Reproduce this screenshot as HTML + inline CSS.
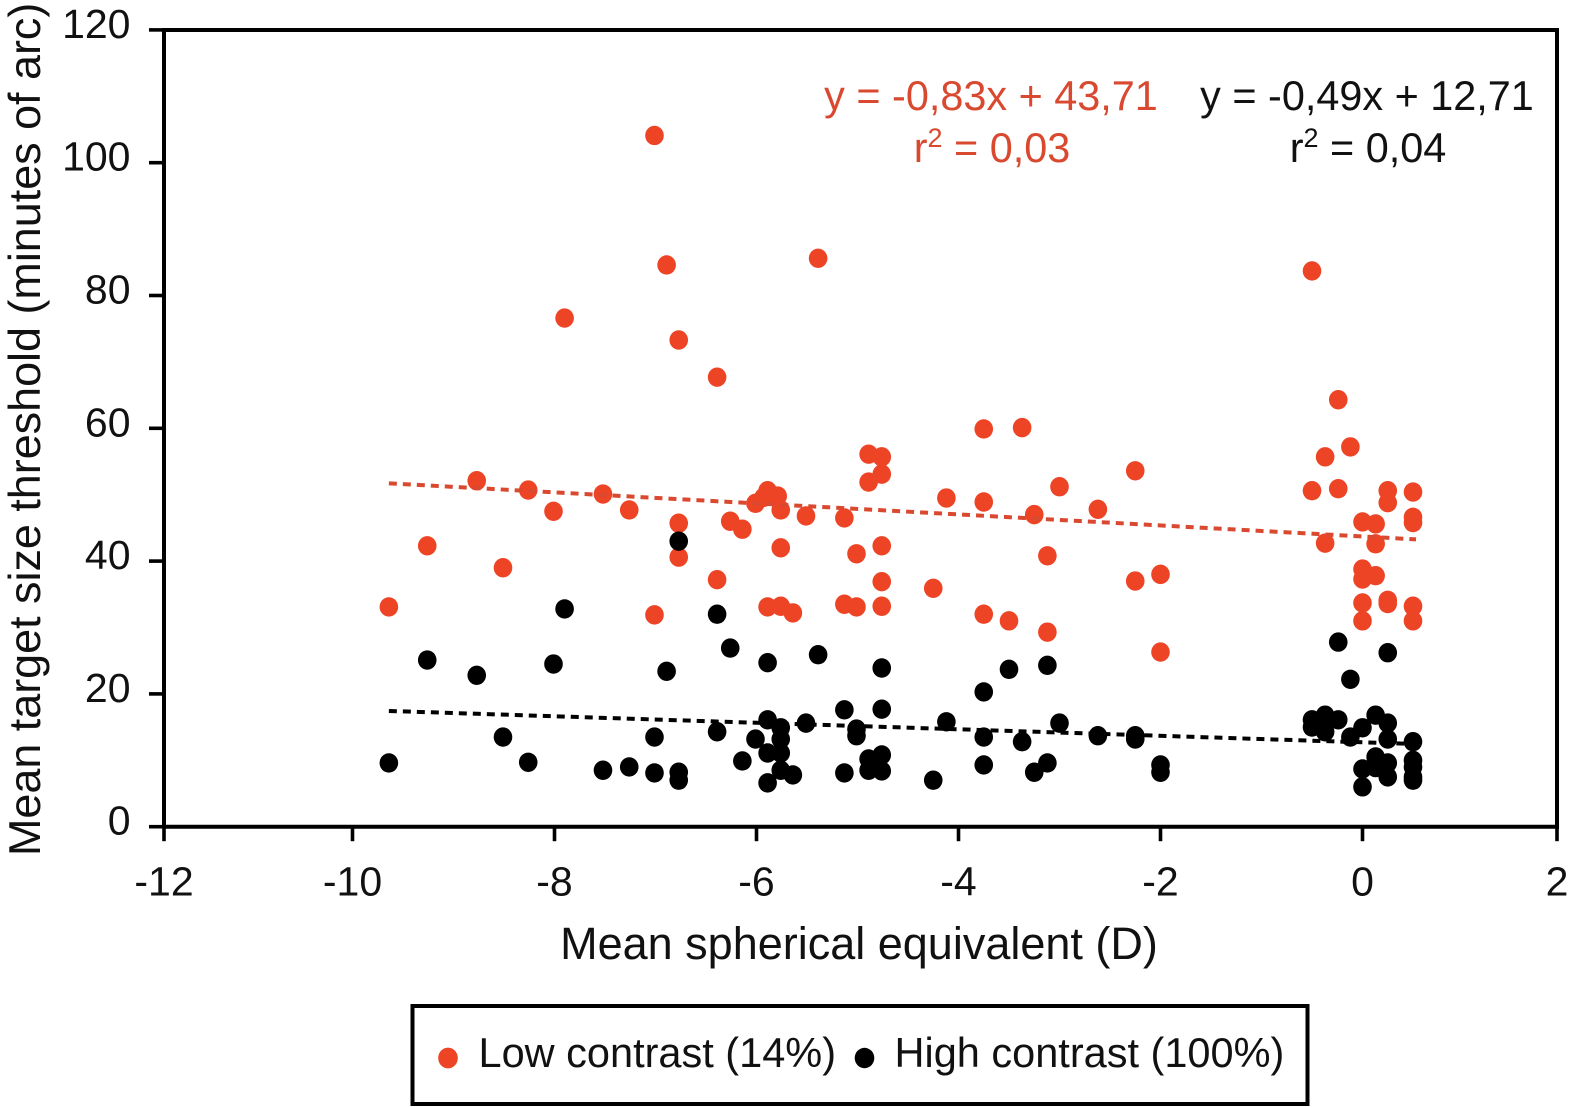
<!DOCTYPE html>
<html lang="en">
<head>
<meta charset="utf-8">
<title>Mean target size threshold vs mean spherical equivalent</title>
<style>
html,body{margin:0;padding:0;background:#fff;}
body{width:1569px;height:1107px;overflow:hidden;}
svg{display:block;font-family:"Liberation Sans",Arial,sans-serif;}
text{fill:#111;}
</style>
</head>
<body>
<svg id="chart" xmlns="http://www.w3.org/2000/svg" width="1569" height="1107" viewBox="0 0 1569 1107">
  <rect x="0" y="0" width="1569" height="1107" fill="#ffffff"/>
  <g id="marks-low"></g>
  <g id="marks-high"></g>
  <g id="trends"></g>
  <g id="axes"></g>

  <text x="859" y="959" font-size="45" text-anchor="middle">Mean spherical equivalent (D)</text>
  <text transform="translate(40,856) rotate(-90)" font-size="44.9">Mean target size threshold (minutes of arc)</text>

  <text x="991" y="110" font-size="41.4" text-anchor="middle" style="fill:#d9492f">y = -0,83x + 43,71</text>
  <text x="992" y="162" font-size="41.4" text-anchor="middle" style="fill:#d9492f">r<tspan font-size="27" dy="-15">2</tspan><tspan dy="15"> = 0,03</tspan></text>
  <text x="1367" y="110" font-size="41.4" text-anchor="middle">y = -0,49x + 12,71</text>
  <text x="1368" y="162" font-size="41.4" text-anchor="middle">r<tspan font-size="27" dy="-15">2</tspan><tspan dy="15"> = 0,04</tspan></text>

  <g>
    <rect x="412.5" y="1006" width="895" height="98" fill="#ffffff" stroke="#000000" stroke-width="4"/>
    <ellipse cx="448" cy="1058" rx="9.8" ry="10.4" fill="#ee4426"/>
    <text x="478.5" y="1067" font-size="41.5">Low contrast (14%)</text>
    <ellipse cx="864.5" cy="1058" rx="9.8" ry="10.2" fill="#000000"/>
    <text x="894.5" y="1067" font-size="41.5">High contrast (100%)</text>
  </g>
</svg>
<script>
const lowX = [-9.64,-9.26,-8.77,-8.51,-8.26,-8.01,-7.90,-7.52,-7.26,-7.01,-7.01,-6.89,-6.77,-6.77,-6.77,-6.39,-6.39,-6.26,-6.14,-6.01,-5.89,-5.93,-5.89,-5.79,-5.76,-5.76,-5.76,-5.64,-5.51,-5.39,-5.13,-5.13,-5.01,-5.01,-4.89,-4.89,-4.76,-4.76,-4.76,-4.76,-4.76,-4.25,-4.12,-3.75,-3.75,-3.75,-3.50,-3.37,-3.25,-3.12,-3.12,-3.00,-2.62,-2.25,-2.25,-2.00,-2.00,-0.50,-0.50,-0.37,-0.37,-0.24,-0.24,-0.12,0,0,0,0,0,0.13,0.13,0.13,0.25,0.25,0.25,0.25,0.50,0.50,0.50,0.50,0.50];
const lowY = [33.1,42.3,52.1,39.0,50.7,47.5,76.6,50.1,47.7,104.1,31.9,84.6,73.3,45.7,40.6,67.7,37.2,46.0,44.8,48.7,50.6,49.6,33.1,49.8,47.7,42.0,33.2,32.2,46.8,85.6,46.5,33.5,41.1,33.1,56.1,51.9,55.7,53.1,42.3,36.9,33.2,35.9,49.5,59.9,48.9,32.0,31.0,60.1,47.0,40.8,29.3,51.2,47.8,53.6,37.0,38.0,26.3,83.7,50.6,55.7,42.7,64.3,50.9,57.2,45.9,38.8,37.3,33.7,31.0,45.6,42.6,37.8,50.6,48.8,34.1,33.6,50.4,46.6,45.8,33.2,31.0];

const highX = [-9.64,-9.26,-8.77,-8.51,-8.26,-8.01,-7.90,-7.52,-7.26,-7.01,-7.01,-6.89,-6.77,-6.77,-6.77,-6.39,-6.39,-6.26,-6.14,-6.01,-5.89,-5.89,-5.89,-5.89,-5.76,-5.76,-5.76,-5.76,-5.64,-5.51,-5.39,-5.13,-5.13,-5.01,-5.01,-4.89,-4.89,-4.76,-4.76,-4.76,-4.76,-4.25,-4.12,-3.75,-3.75,-3.75,-3.50,-3.37,-3.25,-3.12,-3.12,-3.00,-2.62,-2.25,-2.25,-2.00,-2.00,-0.50,-0.50,-0.37,-0.37,-0.24,-0.24,-0.12,-0.12,0,0,0,0.13,0.13,0.13,0.25,0.25,0.25,0.25,0.25,0.50,0.50,0.50,0.50,0.50];
const highY = [9.6,25.1,22.8,13.5,9.7,24.5,32.8,8.5,9.0,13.5,8.1,23.4,43.0,8.2,7.0,32.0,14.3,26.9,9.9,13.2,24.7,16.1,11.1,6.6,14.9,13.2,11.1,8.5,7.8,15.6,25.9,17.6,8.1,14.7,13.7,10.2,8.5,23.9,17.7,10.8,8.4,7.0,15.8,20.3,13.5,9.3,23.7,12.8,8.2,24.3,9.6,15.6,13.7,13.7,13.2,9.3,8.2,16.1,15.0,16.8,14.3,16.1,27.8,22.2,13.5,14.9,8.7,6.0,16.8,10.5,8.9,26.2,15.6,13.2,9.6,7.5,12.8,10.0,9.0,7.5,7.0];

const xTickLabels = [-12,-10,-8,-6,-4,-2,0,2];
const yTickLabels = [0,20,40,60,80,100,120];

const lowFit = { slope: -0.83, intercept: 43.71 };
const highFit = { slope: -0.49, intercept: 12.71 };
const fitRange = [-9.64, 0.53];

const NS = 'http://www.w3.org/2000/svg';
const plotLeft = 164, plotRight = 1557, plotTop = 30, plotBottom = 826.7;
const RED = '#ee4426', RED_LINE = '#d9492f', BLACK = '#000000';

function xScale(v) { return 1362.5 + 101 * v; }
function yScale(v) { return plotBottom - 6.64 * v; }
function xTickPos(v) { return Math.max(plotLeft, Math.min(plotRight, xScale(v))); }

function make(tag, attrs, parent) {
  const el = document.createElementNS(NS, tag);
  for (const k in attrs) el.setAttribute(k, attrs[k]);
  parent.appendChild(el);
  return el;
}

function drawDots(parentId, xs, ys, fill, name) {
  const parent = document.getElementById(parentId);
  xs.forEach(function (xv, i) {
    const dot = make('ellipse', { cx: xScale(xv), cy: yScale(ys[i]), rx: 9.3, ry: 9.7, fill: fill }, parent);
    
    
  });
}

drawDots('marks-low', lowX, lowY, RED, 'low-contrast-point');
drawDots('marks-high', highX, highY, BLACK, 'high-contrast-point');

function drawFit(fit, color, name) {
  const parent = document.getElementById('trends');
  const line = make('line', {
    x1: xScale(fitRange[0]), y1: yScale(fit.slope * fitRange[0] + fit.intercept),
    x2: xScale(fitRange[1]), y2: yScale(fit.slope * fitRange[1] + fit.intercept),
    stroke: color, 'stroke-width': 4, 'stroke-dasharray': '8 6'
  }, parent);
  
  
}
drawFit(lowFit, RED_LINE, 'low-contrast-trend-line');
drawFit(highFit, BLACK, 'high-contrast-trend-line');

const axes = document.getElementById('axes');
function axisLine(x1, y1, x2, y2, name, w) {
  const l = make('line', { x1: x1, y1: y1, x2: x2, y2: y2, stroke: BLACK, 'stroke-width': w }, axes);
  
  
}
axisLine(plotLeft, plotTop - 2, plotLeft, plotBottom + 2, 'y-axis-line', 4);
axisLine(plotLeft, plotBottom, plotRight + 2, plotBottom, 'x-axis-line', 4);
axisLine(plotLeft, plotTop, plotRight + 2, plotTop, 'plot-top-border', 4);
axisLine(plotRight, plotTop - 2, plotRight, plotBottom + 2, 'plot-right-border', 4);

xTickLabels.forEach(function (v) {
  const px = xTickPos(v);
  axisLine(px, plotBottom, px, plotBottom + 14.5, 'x-axis-tick', 3.6);
  const t = make('text', { x: px, y: 895.5, 'font-size': 41, 'text-anchor': 'middle' }, axes);
  t.textContent = String(v);
  
  
});

yTickLabels.forEach(function (v) {
  const py = yScale(v);
  axisLine(149, py, plotLeft, py, 'y-axis-tick', 3.6);
  const t = make('text', { x: 130.5, y: py + 8, 'font-size': 41, 'text-anchor': 'end' }, axes);
  t.textContent = String(v);
  
  
});
</script>
</body>
</html>
